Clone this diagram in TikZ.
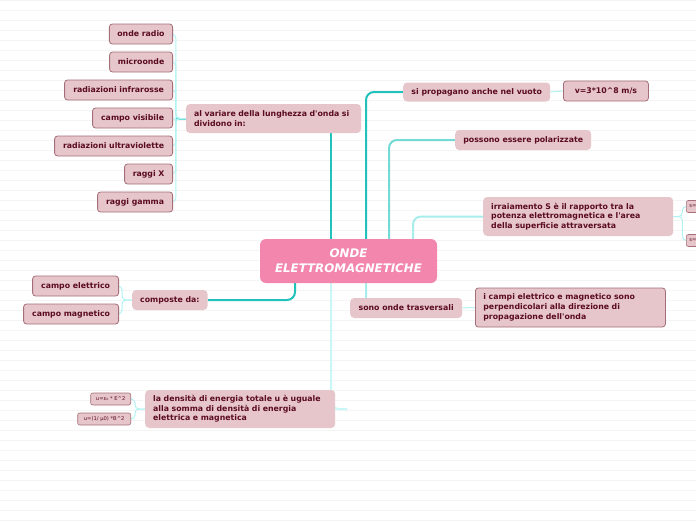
\documentclass[tikz,border=0pt]{standalone}
\usepackage{fontspec}
\setmainfont{DejaVu Sans}
\usepackage{tikz}
\usetikzlibrary{positioning,backgrounds}
\definecolor{mRose}{HTML}{E6C6CB}
\definecolor{mEdge}{HTML}{A46F78}
\definecolor{mWine}{HTML}{5B0B1F}
\definecolor{mHub}{HTML}{F286AD}
\definecolor{mTeal}{HTML}{22C2BC}
\definecolor{mAqua}{HTML}{74DAD6}
\definecolor{mPale}{HTML}{B2F2F2}
\definecolor{mRule}{HTML}{F4F4F4}

\begin{document}
\begin{tikzpicture}[x=1pt, y=-1pt, font=\fontsize{7.8}{9.7}\selectfont\bfseries, text=mWine,
  sub/.style={fill=mRose, rounded corners=4pt, minimum height=20pt, inner xsep=8pt, inner ysep=2pt},
  leaf/.style={sub, draw=mEdge, line width=0.8pt, rounded corners=3pt},
  tiny/.style={leaf, font=\fontsize{5.2}{6}\selectfont, minimum height=12pt, inner xsep=3pt, line width=0.6pt, rounded corners=2pt},
  trunk/.style={draw=mTeal, line width=2pt, rounded corners=8pt},
  twig/.style={draw=mPale, line width=1pt, rounded corners=4pt}]
\useasboundingbox (0,0) rectangle (696,520);

% central topic
\node[fill=mHub, rounded corners=6pt, minimum width=177pt, minimum height=44pt, align=center, text=white,
  font=\fontsize{11.8}{15}\selectfont\bfseries\itshape] (c) at (348.5,261) {ONDE\\ELETTROMAGNETICHE};

% spectrum
\node[sub, minimum width=175pt, minimum height=29pt, text width=159pt, align=left] (av) at (273.5,118.5) {al variare della lunghezza d\textquotesingle onda si\\dividono in:};
\node[leaf, anchor=east, minimum width=63pt] (r1) at (173,34) {onde radio};
\node[leaf, anchor=east, minimum width=63pt] (r2) at (173,62) {microonde};
\node[leaf, anchor=east, minimum width=108pt] (r3) at (173,90) {radiazioni infrarosse};
\node[leaf, anchor=east, minimum width=80pt] (r4) at (173,118) {campo visibile};
\node[leaf, anchor=east, minimum width=118pt] (r5) at (173,146) {radiazioni ultraviolette};
\node[leaf, anchor=east, minimum width=48pt] (r6) at (173,174) {raggi X};
\node[leaf, anchor=east, minimum width=75pt] (r7) at (173,202) {raggi gamma};

% right branches
\node[sub, anchor=west, minimum width=147pt, minimum height=19pt] (sp) at (403,92) {si propagano anche nel vuoto};
\node[leaf, anchor=west, minimum width=85pt] (v) at (563,91) {v=3*10\textasciicircum{}8 m/s};
\node[sub, anchor=west, minimum width=136pt] (pe) at (455,140) {possono essere polarizzate};
\node[sub, anchor=west, minimum width=190pt, minimum height=39pt, text width=174pt, align=left] (ir) at (483,216.5) {irraiamento S è il rapporto tra la\\potenza elettromagnetica e l\textquotesingle area\\della superficie attraversata};
\node[tiny, anchor=west, minimum width=30pt, align=left, text width=24pt] (s1) at (686,206.5) {s=};
\node[tiny, anchor=west, minimum width=30pt, align=left, text width=24pt] (s2) at (686,240.5) {s=};
\node[sub, anchor=west, minimum width=112pt] (so) at (350,308) {sono onde trasversali};
\node[leaf, anchor=west, minimum width=190pt, minimum height=39pt, text width=174pt, align=left] (ic) at (475,307.5) {i campi elettrico e magnetico sono\\perpendicolari alla direzione di\\propagazione dell\textquotesingle onda};

% left branches
\node[sub, anchor=west, minimum width=75pt] (cd) at (132,300) {composte da:};
\node[leaf, anchor=east, minimum width=86pt] (ce) at (119,286) {campo elettrico};
\node[leaf, anchor=east, minimum width=95pt] (cm) at (119,314) {campo magnetico};
\node[sub, anchor=west, minimum width=190pt, minimum height=38pt, text width=174pt, align=left] (de) at (145,409) {la densità di energia totale u è uguale\\alla somma di densità di energia\\elettrica e magnetica};
\node[tiny, anchor=east, minimum width=40pt] (u1) at (131,399) {u=ε₀ * E\textasciicircum{}2};
\node[tiny, anchor=east, minimum width=53pt] (u2) at (131,419) {u=(1/ μ0) *B\textasciicircum{}2};

\begin{scope}[on background layer]
\foreach \y in {0,10,...,520} \draw[mRule, line width=0.6pt] (0,\y) -- (696,\y);
% trunks from the centre
\draw[trunk] ([xshift=-17.5pt]c.north) -- ([xshift=-17.5pt]c.north |- av.south);
\draw[trunk] ([xshift=17.5pt]c.north) |- (sp.west);
\draw[trunk, draw=mAqua] ([xshift=40.5pt]c.north) |- (pe.west);
\draw[trunk, draw=mPale!80!mAqua] ([xshift=64.5pt]c.north) |- (ir.west);
\draw[trunk] ([xshift=-53.5pt]c.south) |- (cd.east);
\draw[trunk, draw=mPale!80!mAqua] ([xshift=17.5pt]c.south) |- (so.west);
\draw[trunk, draw=mPale!70] ([xshift=-17.5pt]c.south) |- ([xshift=12pt]de.east);
% twigs
\draw[trunk, rounded corners=0pt] (av.west) -- ++(-10,0);
\foreach \n in {r1,r2,r3,r4,r5,r6,r7} \draw[twig] (av.west) -- ++(-10,0) |- (\n.east);
\foreach \n in {ce,cm} \draw[twig] (cd.west) -- ++(-10,0) |- (\n.east);
\foreach \n in {u1,u2} \draw[twig] (de.west) -- ++(-10,0) |- (\n.east);
\foreach \n in {s1,s2} \draw[twig] (ir.east) -- ++(9,0) |- (\n.west);
\draw[twig] (sp.east) -- (v.west);
\draw[twig] (so.east) -- (ic.west);
\end{scope}
\end{tikzpicture}
\end{document}
